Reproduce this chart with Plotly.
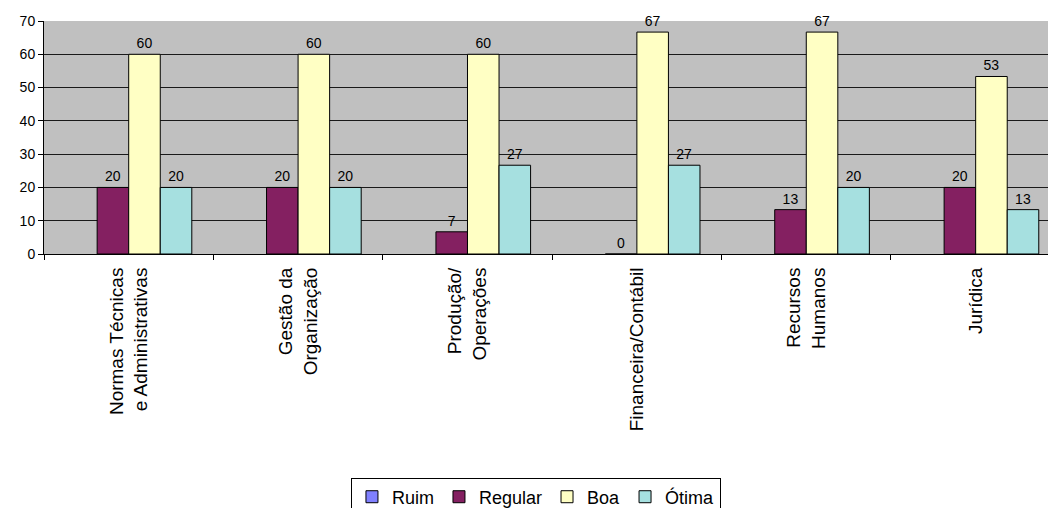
import plotly.graph_objects as go

# Survey ratings (%) per area
areas = [
    "Normas Técnicas<br>e Administrativas",
    "Gestão da<br>Organização",
    "Produção/<br>Operações",
    "Financeira/Contábil",
    "Recursos<br>Humanos",
    "Jurídica",
]
ruim = [None, None, None, None, None, None]
regular = [20, 20, 6.67, 0, 13.33, 20]
boa = [60, 60, 60, 66.67, 66.67, 53.33]
otima = [20, 20, 26.67, 26.67, 20, 13.33]

series = [
    ("Ruim", ruim, "#8080FF"),
    ("Regular", regular, "#842061"),
    ("Boa", boa, "#FFFFC4"),
    ("Ótima", otima, "#A6E0E0"),
]

FONT = "Liberation Sans, Arial, sans-serif"

fig = go.Figure()
for name, vals, color in series:
    fig.add_trace(go.Bar(
        name=name,
        x=areas,
        y=vals,
        marker=dict(color=color, line=dict(color="#000000", width=1)),
        texttemplate="%{y:.0f}",
        textposition="outside",
        textfont=dict(family=FONT, size=14, color="#000000"),
        cliponaxis=False,
    ))

fig.update_layout(
    width=1048,
    height=508,
    margin=dict(l=44, r=0, t=21, b=254),
    paper_bgcolor="#FFFFFF",
    plot_bgcolor="#C0C0C0",
    barmode="group",
    bargap=0.255,
    bargroupgap=0,
    font=dict(family=FONT, size=13, color="#000000"),
    showlegend=True,
    legend=dict(
        orientation="h",
        xref="paper",
        x=0.49,
        xanchor="center",
        yref="container",
        y=0.06,
        yanchor="top",
        bordercolor="#000000",
        borderwidth=1,
        bgcolor="#FFFFFF",
        font=dict(family=FONT, size=18, color="#000000"),
        itemwidth=30,
        traceorder="normal",
    ),
)

fig.update_xaxes(
    type="category",
    range=[-0.5, 5.427],
    tickangle=-90,
    ticks="outside",
    tickson="boundaries",
    ticklen=5,
    tickcolor="#000000",
    ticklabelstandoff=5,
    showline=True,
    linecolor="#000000",
    linewidth=1,
    showgrid=False,
    tickfont=dict(family=FONT, size=19, color="#000000"),
)
fig.update_yaxes(
    range=[0, 70],
    dtick=10,
    ticks="outside",
    ticklen=5,
    tickcolor="#000000",
    showline=True,
    linecolor="#000000",
    linewidth=1,
    showgrid=True,
    gridcolor="#1a1a1a",
    gridwidth=1,
    zeroline=False,
    tickfont=dict(family=FONT, size=14, color="#000000"),
)

fig.write_html("out.html")
